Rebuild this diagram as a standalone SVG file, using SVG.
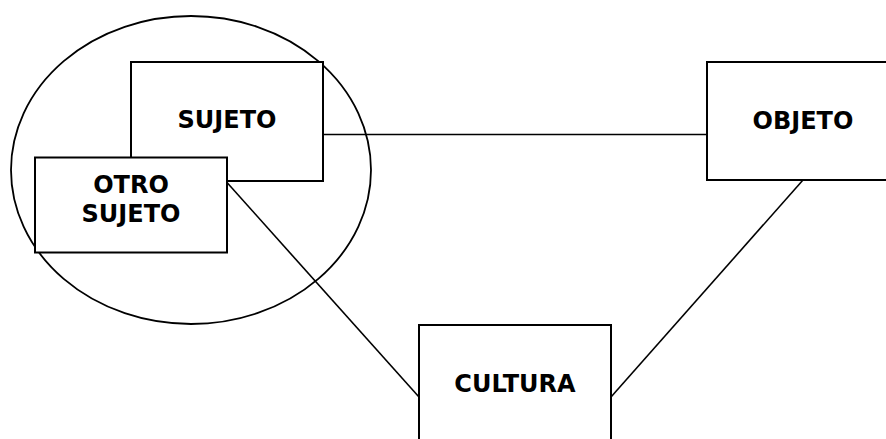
<svg xmlns="http://www.w3.org/2000/svg" width="886" height="439" viewBox="0 0 886 439">
<style>
.box{fill:#fff;stroke:#000;stroke-width:2}
.lbl{font-family:"DejaVu Sans",Verdana,sans-serif;font-weight:bold;font-size:24px;text-anchor:middle;fill:#000}
.conn{stroke:#000;stroke-width:1.6;fill:none}
</style>
<rect width="886" height="439" fill="#fff"/>
<g id="grupo">
<ellipse cx="191" cy="170" rx="180" ry="154" fill="none" stroke="#000" stroke-width="1.8"/>
</g>
<g id="connectors">
<line class="conn" x1="323" y1="134.5" x2="707" y2="134.5"/>
<line class="conn" x1="227" y1="182.5" x2="419" y2="397"/>
<line class="conn" x1="803" y1="180" x2="611" y2="397"/>
</g>
<g id="sujeto">
<rect class="box" x="131" y="62" width="192" height="119"/>
<text class="lbl" x="227" y="128">SUJETO</text>
</g>
<g id="otro-sujeto">
<rect class="box" x="35" y="157.5" width="192" height="95"/>
<text class="lbl" x="131" y="193">OTRO</text>
<text class="lbl" x="131" y="222">SUJETO</text>
</g>
<g id="objeto">
<rect class="box" x="707" y="62" width="192" height="118"/>
<text class="lbl" x="803" y="129">OBJETO</text>
</g>
<g id="cultura">
<rect class="box" x="419" y="325" width="192" height="130"/>
<text class="lbl" x="515" y="392">CULTURA</text>
</g>
</svg>
